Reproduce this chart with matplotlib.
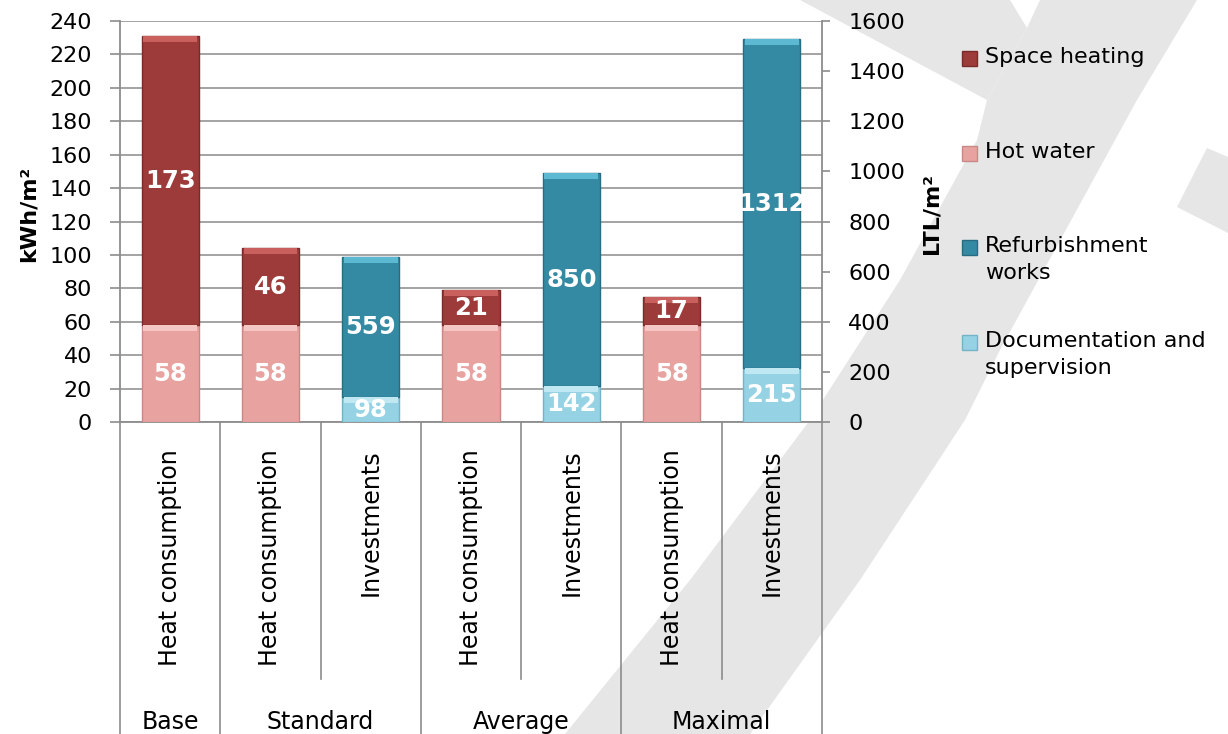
import matplotlib.pyplot as plt
from matplotlib.patches import Polygon, Rectangle

# data
columns = ['Heat consumption', 'Heat consumption', 'Investments', 'Heat consumption',
           'Investments', 'Heat consumption', 'Investments']
groups = ['Base', 'Standard', 'Average', 'Maximal']
group_sizes = [1, 2, 2, 2]

heat_idx = [0, 1, 3, 5]
hot_water = [58, 58, 58, 58]
space_heating = [173, 46, 21, 17]

inv_idx = [2, 4, 6]
documentation = [98, 142, 215]
refurbishment = [559, 850, 1312]

series_names = ['Space heating', 'Hot water', 'Refurbishment\nworks', 'Documentation and\nsupervision']
colors = ['#9c3b39', '#e8a3a1', '#358aa3', '#95d2e4']
edges = ['#7a2a29', '#c98886', '#276d82', '#72b3c6']
shines = ['#c9605d', '#f4c6c4', '#5db8d1', '#c0e8f3']

W, H = 1228, 734
fig = plt.figure(figsize=(W / 100, H / 100), dpi=100)

# light grey watermark behind everything (pixel coords)
bg = fig.add_axes([0, 0, 1, 1], zorder=-5)
bg.set_xlim(0, W)
bg.set_ylim(H, 0)
bg.axis('off')
wm = '#e6e6e6'
band = [(1040, 0), (1027, 28), (987, 100), (977, 140), (900, 280), (810, 420), (690, 580), (565, 734),
        (750, 734), (860, 580), (965, 420), (1000, 350), (1137, 100), (1197, 0)]
upper = [(800, 0), (1010, 0), (1027, 28), (987, 100)]
wedge = [(1207, 148), (1228, 157), (1228, 233), (1177, 207)]
for pts in (band, upper, wedge):
    bg.add_patch(Polygon(pts, closed=True, color=wm, lw=0))

# plot area
ax = fig.add_axes([120 / W, 1 - 422 / H, 702 / W, 401 / H])
ax.set_facecolor('white')
ax2 = ax.twinx()

ax.set_xlim(-0.5, 6.5)
ax.set_ylim(0, 240)
ax.set_yticks(range(0, 241, 20))
ax2.set_ylim(0, 1600)
ax2.set_yticks(range(0, 1601, 200))

bw = 0.57
b1 = ax.bar(heat_idx, hot_water, bw, color=colors[1], edgecolor=edges[1], lw=1, zorder=3)
b2 = ax.bar(heat_idx, space_heating, bw, bottom=hot_water, color=colors[0], edgecolor=edges[0], lw=1, zorder=3)
b3 = ax2.bar(inv_idx, documentation, bw, color=colors[3], edgecolor=edges[3], lw=1, zorder=3)
b4 = ax2.bar(inv_idx, refurbishment, bw, bottom=documentation, color=colors[2], edgecolor=edges[2], lw=1, zorder=3)

# thin light strip on top of each segment (bevel look)
hl_left = 6 * 240 / 401
hl_right = 6 * 1600 / 401
heat_top1 = hot_water
heat_top2 = [a + b for a, b in zip(hot_water, space_heating)]
inv_top1 = documentation
inv_top2 = [a + b for a, b in zip(documentation, refurbishment)]
ax.bar(heat_idx, hl_left, bw * 0.94, bottom=[t - hl_left for t in heat_top1], color=shines[1], lw=0, zorder=3.5)
ax.bar(heat_idx, hl_left, bw * 0.94, bottom=[t - hl_left for t in heat_top2], color=shines[0], lw=0, zorder=3.5)
ax2.bar(inv_idx, hl_right, bw * 0.94, bottom=[t - hl_right for t in inv_top1], color=shines[3], lw=0, zorder=3.5)
ax2.bar(inv_idx, hl_right, bw * 0.94, bottom=[t - hl_right for t in inv_top2], color=shines[2], lw=0, zorder=3.5)

for a, cont in ((ax, b1), (ax, b2), (ax2, b3), (ax2, b4)):
    a.bar_label(cont, label_type='center', color='white', fontsize=17.5, fontweight='bold', zorder=5)

grey = '#8c8c8c'
ax.yaxis.grid(True, color='#9c9c9c', lw=1.3)
ax.set_axisbelow(True)
ax.tick_params(axis='x', length=0, labelbottom=False)
ax.tick_params(axis='y', direction='out', length=7, width=1.2, color=grey, labelsize=16, pad=13)
ax2.tick_params(axis='y', direction='out', length=6, width=1.2, color=grey, labelsize=16, pad=13)
for s in ['top', 'right']:
    ax.spines[s].set_visible(False)
for s in ['top', 'left', 'bottom']:
    ax2.spines[s].set_visible(False)
for sp in (ax.spines['left'], ax.spines['bottom'], ax2.spines['right']):
    sp.set_color(grey)
    sp.set_linewidth(1.3)

ax.set_ylabel('kWh/m²', fontsize=16, fontweight='bold')
ax.yaxis.set_label_coords(-0.116, 0.52)
ax2.set_ylabel('LTL/m²', fontsize=16, fontweight='bold')
ax2.yaxis.set_label_coords(1.142, 0.52)

# two-level category axis
def ay(py):
    return (422 - py) / 401

tr = ax.get_xaxis_transform()
for i, name in enumerate(columns):
    ax.text(i, ay(449), name, rotation=90, ha='center', va='top', fontsize=17, transform=tr)

start = 0
for g, n in zip(groups, group_sizes):
    ax.plot([start - 0.5, start - 0.5], [0, ay(734)], color=grey, lw=1.2, transform=tr, clip_on=False)
    for k in range(1, n):
        ax.plot([start + k - 0.5] * 2, [0, ay(679)], color=grey, lw=1.2, transform=tr, clip_on=False)
    ax.text(start + (n - 1) / 2, ay(729), g, ha='center', va='baseline', fontsize=17, transform=tr)
    start += n
ax.plot([start - 0.5, start - 0.5], [0, ay(734)], color=grey, lw=1.2, transform=tr, clip_on=False)

# legend drawn by hand to keep the Excel spacing
rows = [58, 153, 247, 342]
for name, c, e, y in zip(series_names, colors, edges, rows):
    bg.add_patch(Rectangle((962, y - 7), 15, 15, facecolor=c, edgecolor=e, lw=1))
    bg.text(985, y - 11, name, fontsize=16, va='top', ha='left', linespacing=1.45)

fig.savefig('out.png', dpi=100)
